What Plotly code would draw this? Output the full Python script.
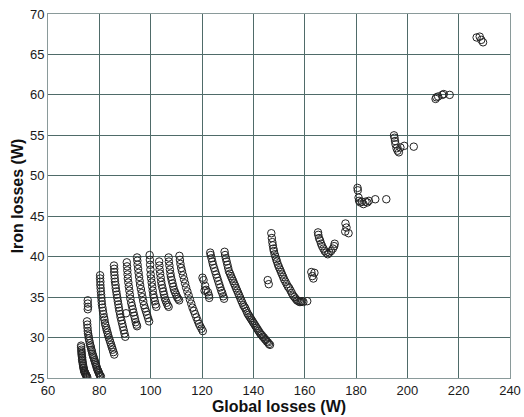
import plotly.graph_objects as go

# Each curve/cluster: list of (global losses W, iron losses W)
curve_a = [(72.9,29.0),(72.9,28.8),(73.0,28.5),(73.0,28.3),(73.1,28.1),(73.1,27.9),(73.2,27.7),
           (73.3,27.5),(73.3,27.3),(73.4,27.1),(73.5,26.9),(73.6,26.7),(73.7,26.5),(73.8,26.3),
           (73.9,26.2),(74.0,26.0),(74.1,25.9),(74.2,25.8),(74.3,25.7),(74.5,25.6),(74.6,25.5),
           (74.8,25.4),(74.9,25.3),(75.1,25.2),(75.3,25.1)]
cluster_b0 = [(75.5,34.6),(75.5,34.2),(75.6,33.8),(75.5,33.5)]
curve_b = [(75.2,32.0),(75.3,31.6),(75.4,31.2),(75.5,30.8),(75.6,30.5),(75.8,30.2),(75.9,29.9),
           (76.1,29.6),(76.3,29.3),(76.5,29.0),(76.7,28.8),(76.9,28.5),(77.1,28.3),(77.3,28.0),
           (77.5,27.8),(77.7,27.6),(77.9,27.4),(78.1,27.2),(78.3,27.0),(78.5,26.8),(78.7,26.6),
           (78.9,26.4),(79.1,26.2),(79.3,26.0),(79.5,25.9),(79.7,25.7),(79.9,25.6),(80.1,25.4),
           (80.3,25.3),(80.6,25.2)]
curve_c = [(80.3,37.7),(80.3,37.3),(80.4,36.9),(80.4,36.5),(80.5,36.1),(80.6,35.7),(80.7,35.3),
           (80.8,34.9),(80.9,34.5),(81.0,34.1),(81.2,33.7),(81.4,33.3),(81.6,32.9),(81.8,32.5),
           (82.0,32.2),(82.2,31.8),(82.4,31.5),(82.7,31.2),(82.9,30.9),(83.2,30.6),(83.4,30.3),
           (83.7,30.0),(84.0,29.7),(84.3,29.4),(84.6,29.1),(84.9,28.8),(85.2,28.5),(85.5,28.2),
           (85.8,27.9)]
curve_d = [(85.7,38.9),(85.8,38.5),(85.8,38.1),(85.9,37.7),(86.0,37.3),(86.1,36.9),(86.3,36.5),
           (86.4,36.1),(86.6,35.7),(86.8,35.3),(87.0,34.9),(87.2,34.5),(87.4,34.1),(87.6,33.7),
           (87.8,33.3),(88.1,32.9),(88.3,32.5),(88.6,32.1),(88.9,31.7),(89.2,31.3),(89.5,30.9),
           (89.8,30.5),(90.1,30.1),(90.4,33.0)]
curve_e = [(90.7,39.3),(90.8,38.8),(90.9,38.3),(91.0,37.8),(91.1,37.3),(91.3,36.8),(91.5,36.3),
           (91.7,35.8),(91.9,35.3),(92.1,34.8),(92.4,34.3),(92.7,33.9),(93.0,33.5),(93.3,33.1),
           (93.6,32.7),(93.9,32.3),(94.2,31.9),(94.5,31.6),(94.7,31.4)]
curve_f = [(94.7,39.9),(94.8,39.5),(94.9,39.0),(95.1,38.5),(95.3,38.0),(95.5,37.5),(95.7,37.0),
           (95.9,36.5),(96.2,36.0),(96.5,35.5),(96.8,35.0),(97.1,34.5),(97.4,34.0),(97.8,33.6),
           (98.2,33.2),(98.6,32.8),(99.0,32.4),(99.4,32.0)]
curve_g = [(99.6,40.2),(99.7,39.6),(99.8,39.0),(99.9,38.4),(100.0,37.8),(100.2,37.3),(100.4,36.8),
           (100.6,36.3),(100.8,35.8),(101.0,35.3),(101.3,34.9),(101.6,34.5),(101.9,34.1),(102.2,33.8)]
curve_h = [(103.3,39.4),(103.4,38.9),(103.5,38.4),(103.7,37.9),(103.9,37.4),(104.1,36.9),(104.3,36.5),
           (104.6,36.1),(104.9,35.7),(105.2,35.3),(105.5,34.9),(105.8,34.6),(106.2,34.3),(106.6,34.0),
           (107.0,33.8)]
curve_i = [(107.0,39.9),(107.1,39.4),(107.3,38.9),(107.5,38.4),(107.7,37.9),(107.9,37.5),(108.2,37.1),
           (108.5,36.7),(108.8,36.3),(109.1,35.9),(109.5,35.6),(109.9,35.3),(110.3,35.0),(110.7,34.8),
           (111.1,34.6)]
curve_j = [(111.2,40.1),(111.4,39.6),(111.6,39.1),(111.9,38.6),(112.2,38.2),(112.6,37.7),(113.0,37.2),
           (113.4,36.7),(113.8,36.2),(114.3,35.7),(114.8,35.2),(115.3,34.7),(115.8,34.2),(116.3,33.7),
           (116.8,33.3),(117.3,32.9),(117.8,32.5),(118.3,32.1),(118.8,31.7),(119.3,31.4),(119.8,31.1),
           (120.3,30.8)]
cluster_k = [(120.2,37.4),(120.6,37.1),(121.2,36.4),(121.6,35.9),(122.3,35.6),(122.7,35.2),
             (122.8,34.9),(121.0,35.8)]
curve_l = [(123.2,40.5),(123.4,40.2),(123.7,39.8),(124.0,39.4),(124.3,39.0),(124.7,38.6),(125.1,38.2),
           (125.5,37.8),(125.9,37.4),(126.3,37.0),(126.7,36.6),(127.1,36.2),(127.5,35.8),(127.9,35.5),
           (128.3,35.1),(128.6,34.8)]
curve_m = [(128.8,40.6),(129.0,40.2),(129.3,39.8),(129.6,39.4),(129.9,39.0),(130.2,38.6),(130.5,38.2),
           (130.9,37.9),(131.3,37.6),(131.7,37.3),(132.1,37.0),(132.5,36.7),(132.9,36.4),(133.3,36.1),
           (133.7,35.8),(134.1,35.5),(134.5,35.2),(134.9,34.9),(135.3,34.6),(135.7,34.3),(136.1,34.0),
           (136.5,33.8),(136.9,33.6),(137.3,33.3),(137.7,33.0),(138.1,32.8),(138.5,32.6),(138.9,32.4),
           (139.3,32.2),(139.7,32.0),(140.1,31.8),(140.5,31.6),(140.9,31.4),(141.3,31.2),(141.7,31.0),
           (142.1,30.8),(142.5,30.6),(142.9,30.4),(143.3,30.3),(143.7,30.1),(144.1,30.0),(144.5,29.8),
           (144.9,29.7),(145.3,29.5),(145.7,29.4),(146.1,29.2),(146.5,29.1)]
curve_n = [(147.0,42.9),(147.2,42.3),(147.4,41.8),(147.6,41.4),(147.8,41.0),(148.0,40.7),(148.3,40.3),
           (148.6,40.0),(148.9,39.7),(149.2,39.4),(149.6,39.0),(150.0,38.7),(150.4,38.4),(150.8,38.1),
           (151.2,37.8),(151.6,37.5),(152.0,37.2),(152.5,36.9),(153.0,36.6),(153.5,36.3),(154.0,36.1),
           (154.5,35.8),(155.0,35.5),(155.5,35.2),(156.0,35.0),(156.5,34.8),(157.0,34.6),(157.5,34.5),
           (158.0,34.4),(158.5,34.4),(159.0,34.5),(159.5,34.4),(161.0,34.5),(145.6,37.1),(146.0,36.6)]
cluster_o = [(162.6,38.1),(163.8,38.0),(163.0,37.6),(163.4,37.3)]
curve_p = [(165.2,43.0),(165.3,42.7),(165.6,42.3),(166.0,42.0),(166.4,41.6),(166.8,41.3),(167.3,41.0),
           (167.8,40.7),(168.4,40.5),(169.0,40.3),(169.6,40.5),(170.3,40.7),(171.0,41.0),(171.5,41.3),
           (171.7,41.6)]
cluster_q = [(175.9,44.1),(176.3,43.6),(175.8,43.1),(177.1,42.9)]
cluster_r = [(180.6,48.5),(180.7,48.2),(181.0,47.3),(181.2,46.9),(181.7,46.7),(182.3,46.8),(182.9,46.5),
             (183.7,46.8),(184.4,46.7),(185.0,46.9),(187.5,47.1),(191.8,47.1)]
cluster_s = [(194.8,55.0),(195.0,54.7),(195.2,54.3),(195.4,53.9),(195.8,53.4),(196.2,53.1),(196.7,52.9),
             (197.3,53.5),(198.8,53.7),(202.5,53.6)]
cluster_t = [(211.0,59.5),(211.3,59.7),(212.0,59.8),(213.6,60.0),(214.2,60.1),(216.5,60.0)]
cluster_u = [(227.0,67.1),(228.2,67.2),(228.8,66.8),(229.5,66.5)]

groups = [curve_a, cluster_b0, curve_b, curve_c, curve_d, curve_e, curve_f, curve_g, curve_h,
          curve_i, curve_j, cluster_k, curve_l, curve_m, curve_n, cluster_o, curve_p, cluster_q,
          cluster_r, cluster_s, cluster_t, cluster_u]

x_ticks = [60, 80, 100, 120, 140, 160, 180, 200, 220, 240]
y_ticks = [25, 30, 35, 40, 45, 50, 55, 60, 65, 70]

xs = [p[0] for g in groups for p in g]
ys = [p[1] for g in groups for p in g]

fig = go.Figure()
fig.add_trace(go.Scatter(
    x=xs, y=ys, mode="markers",
    marker=dict(symbol="circle-open", size=7.5, color="#222222", line=dict(width=1)),
    showlegend=False, hoverinfo="x+y"))

grid_col = "#4f6b69"
axis_font = dict(family="Liberation Sans, Arial, sans-serif", size=13, color="#1a1a1a")
title_font = dict(family="Liberation Sans, Arial, sans-serif", size=16, color="#111")

fig.update_layout(
    width=524, height=417,
    margin=dict(l=48, r=14, t=14, b=39, autoexpand=False),
    paper_bgcolor="white", plot_bgcolor="white",
    xaxis=dict(range=[60, 240], tickvals=x_ticks, ticktext=[str(v) for v in x_ticks],
               showgrid=True, gridcolor=grid_col, gridwidth=1, zeroline=False,
               showline=True, linecolor="#8a9a9a", linewidth=1, mirror=True,
               ticks="", tickfont=axis_font,
               title=dict(text="<b>Global losses (W)</b>", font=title_font, standoff=0),
               automargin=False),
    yaxis=dict(range=[25, 70], tickvals=y_ticks, ticktext=[str(v) for v in y_ticks],
               showgrid=True, gridcolor=grid_col, gridwidth=1, zeroline=False,
               showline=True, linecolor="#8a9a9a", linewidth=1, mirror=True,
               ticks="", tickfont=axis_font,
               title=dict(text="<b>Iron losses (W)</b>", font=title_font, standoff=2),
               automargin=False),
)

fig.write_html("out.html")
